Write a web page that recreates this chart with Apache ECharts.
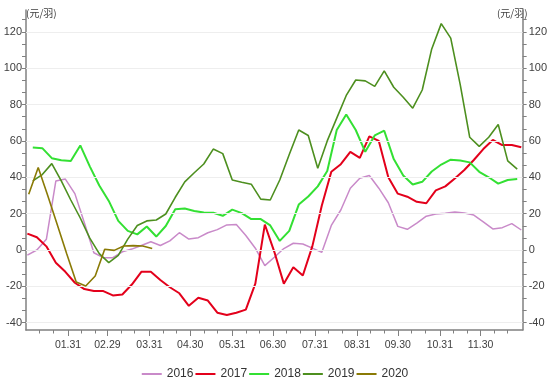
<!DOCTYPE html>
<html><head><meta charset="utf-8">
<script src="https://cdn.jsdelivr.net/npm/echarts@6/dist/echarts.min.js"></script>
<style>html,body{margin:0;padding:0;background:#fff}#c{width:550px;height:379px}</style>
</head><body><div id="c"></div>
<script>
// ---- data ----
const years = ['2016', '2017', '2018', '2019', '2020'];
// day-of-year of each series' first weekly observation (weekly data, 7-day step)
const firstDays = [1, 1, 5, 5, 2];
const v2016 = [-2.8, 0, 5.9, 38, 39, 31, 15, -1.5, -4.2, -4.2, -1, 0.5, 2.5, 4.5, 2.5, 5, 9.5, 6, 6.8, 9.5, 11.2, 13.8, 14, 8, 1, -8.6, -4, 0.8, 3.7, 3.3, 1, -1.3, 13.5, 22, 34, 39.5, 41, 34, 26, 13, 11.4, 14.8, 18.6, 19.8, 20.2, 20.9, 20.3, 19.2, 15.5, 11.6, 12.3, 14.5, 11];
const v2017 = [9, 7, 2, -7, -12, -18, -21.5, -22.6, -22.6, -25, -24.5, -19, -12, -12, -16.5, -20.5, -23.8, -30.7, -26.3, -27.8, -34.5, -35.8, -34.5, -32.8, -18.5, 14, -1, -18.5, -9.5, -14, 2, 24.5, 43, 47.2, 54, 50.7, 62.5, 60, 40, 31, 29.3, 26.5, 25.7, 32.8, 35, 39.3, 44, 49.5, 55.5, 60.5, 57.7, 57.7, 56.5];
const v2018 = [56.4, 56, 50.5, 49.4, 49, 57.5, 46, 35.5, 27, 16, 10.5, 8.6, 12.9, 7.4, 13.2, 22.4, 22.8, 21.5, 20.6, 20.5, 18.8, 22.2, 20.3, 17, 17, 13.5, 5, 10.5, 25, 29.4, 35, 43.5, 66, 74.5, 66, 54, 63, 65.6, 50, 41, 36, 37.5, 43.2, 47, 49.7, 49.2, 48.2, 43, 40, 36.5, 38.5, 39];
const v2019 = [38, 41.5, 47.5, 38, 27.5, 17.6, 6.5, -2, -6.9, -3, 6, 13.5, 16, 16.5, 19.8, 29, 37.5, 42.5, 47.3, 55.5, 53, 38.5, 37.3, 36.2, 28, 27.5, 38.5, 52.5, 66, 63, 45, 60, 72.5, 85, 93.5, 93, 90, 98.5, 89.5, 84, 78, 88, 110.6, 124.5, 116.5, 91, 62, 57, 62, 69, 49, 44.5];
const v2020 = [30.7, 45.4, 30, 14, -2, -17.6, -19.8, -14.3, 0.4, -0.2, 2.2, 2.4, 2.2, 0.8];
const seriesValues = [v2016, v2017, v2018, v2019, v2020];
const xTickLabels = ['01.31', '02.29', '03.31', '04.30', '05.31', '06.30', '07.31', '08.31', '09.30', '10.31', '11.30'];
const yTickLabels = [-40, -20, 0, 20, 40, 60, 80, 100, 120];

// ---- styling ----
const colors = ['#c98ac9', '#e3001b', '#33e033', '#4d8f1f', '#8a7a05'];
const widths = [1.5, 2, 2, 1.6, 1.6];
const FONT = '"Liberation Sans", sans-serif';
const AXIS_COLOR = '#808080';

function dayOfYear(mm, dd) {
  return (Date.UTC(2020, mm - 1, dd) - Date.UTC(2020, 0, 1)) / 864e5 + 1;
}
const majorDays = xTickLabels.map(s => { const p = s.split('.').map(Number); return dayOfYear(p[0], p[1]); });
const minorDays = [];
for (let m = 1; m <= 12; m++) { minorDays.push(dayOfYear(m, 10), dayOfYear(m, 20)); }
const yMinorTicks = [];
yTickLabels.forEach(v => { [0, 1, 2].forEach(k => { const t = v + k * 20 / 3; if (t <= 132) yMinorTicks.push(t); }); });

const chart = echarts.init(document.getElementById('c'), null, { renderer: 'canvas' });

const yAxisBase = (pos) => ({
  type: 'value', position: pos, min: -44, max: 132,
  name: '(元/羽)', nameLocation: 'end', nameGap: -3,
  nameTextStyle: { fontFamily: '"Noto Sans CJK SC", sans-serif', fontSize: 10, color: '#404040',
    align: pos === 'left' ? 'left' : 'right', verticalAlign: 'middle',
    padding: pos === 'left' ? [0, 0, 0, 0] : [0, -5, 0, 0] },
  axisLine: { show: true, onZero: false, lineStyle: { color: AXIS_COLOR, width: 1.5 } },
  axisTick: { show: true, customValues: yMinorTicks, length: 4, lineStyle: { color: AXIS_COLOR } },
  axisLabel: { customValues: yTickLabels, fontFamily: FONT, fontSize: 11, color: '#404040', margin: pos === 'left' ? 4 : 6 },
  splitLine: { show: false }
});

const series = years.map((y, si) => ({
  name: y, type: 'line', xAxisIndex: 0, yAxisIndex: 0,
  data: seriesValues[si].map((v, i) => [firstDays[si] + 7 * i, v]),
  showSymbol: false, symbol: 'none', smooth: false,
  color: colors[si],
  lineStyle: { color: colors[si], width: widths[si] },
  z: 2 + si
}));
series[0].markLine = {
  silent: true, symbol: 'none', animation: false,
  label: { show: false },
  lineStyle: { color: '#eeeeee', type: 'solid', width: 1 },
  emphasis: { disabled: true },
  data: yTickLabels.map(v => ({ yAxis: v }))
};

chart.setOption({
  animation: false,
  backgroundColor: '#ffffff',
  grid: { left: 26, right: 23, top: 10, bottom: 49, containLabel: false },
  legend: {
    data: years, top: 363, left: 'center', icon: 'rect', itemWidth: 20, itemHeight: 2, itemGap: 2,
    textStyle: { fontFamily: FONT, fontSize: 12, color: '#333' }
  },
  xAxis: [
    {
      type: 'value', min: 0, max: 366, position: 'bottom',
      axisLine: { show: true, onZero: false, lineStyle: { color: AXIS_COLOR, width: 1.5 } },
      axisTick: { show: true, customValues: majorDays, length: 6, lineStyle: { color: AXIS_COLOR } },
      axisLabel: { customValues: majorDays, formatter: v => xTickLabels[majorDays.indexOf(v)] || '',
        fontFamily: FONT, fontSize: 10.5, color: '#404040', margin: 10 },
      splitLine: { show: false }
    },
    {
      type: 'value', min: 0, max: 366, position: 'bottom', offset: 0,
      axisLine: { show: false, onZero: false },
      axisTick: { show: true, customValues: minorDays, length: 3.5, lineStyle: { color: AXIS_COLOR } },
      axisLabel: { show: false },
      splitLine: { show: false }
    }
  ],
  yAxis: [yAxisBase('left'), yAxisBase('right')],
  series: series
});
</script>
</body></html>
